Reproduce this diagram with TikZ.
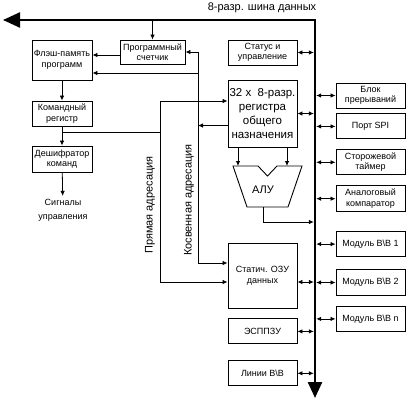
\documentclass[tikz,border=0pt]{standalone}
\usepackage{fontspec}
\setmainfont{Liberation Sans}
\usetikzlibrary{arrows.meta,positioning,calc}

\begin{document}
\begin{tikzpicture}[x=1pt,y=-1pt,
    blk/.style={rectangle,draw,line width=0.9pt,align=center,inner sep=0.5pt,
        minimum width=69pt,minimum height=25pt,font=\fontsize{9}{10.5}\selectfont},
    arr/.style={-{Latex[length=5pt,width=4.5pt]},line width=0.8pt},
    dbl/.style={{Latex[length=5pt,width=4.5pt]}-{Latex[length=5pt,width=4.5pt]},line width=0.8pt},
    bus/.style={{Triangle[length=17pt,width=15pt]}-{Triangle[length=16pt,width=14pt]},line width=2.4pt},
    lbl/.style={font=\fontsize{11}{13}\selectfont}]
    \useasboundingbox (0,0) rectangle (409,407);

    % Data bus
    \coordinate (busl) at (3,20);
    \coordinate (busc) at (315,20);
    \coordinate (busb) at (315,398);
    \coordinate (busw) at (313.8,0);
    \coordinate (buse) at (316.2,0);
    \draw[bus] (busl) -- (busc) -- (busb);
    \node[lbl] (buslabel) at (262,8) {8-разр. шина данных};

    % Program side
    \node[blk,minimum width=60pt,minimum height=40pt] (flash) at (62,60) {Флэш-память\\программ};
    \node[blk,minimum width=65pt,minimum height=24pt] (pc) at (152.5,52) {Программный\\счетчик};
    \node[blk,minimum width=60pt] (cmdreg) at (62,113.5) {Командный\\регистр};
    \node[blk,minimum width=60pt,minimum height=26pt] (decoder) at (62,159) {Дешифратор\\команд};
    \node[align=center,font=\fontsize{9}{14}\selectfont] (signals) at (63,210.5) {Сигналы\\управления};

    % Core
    \node[blk] (status) at (262.5,52.5) {Статус и\\управление};
    \node[blk,minimum height=67pt,font=\fontsize{11.5}{14}\selectfont] (regs) at (262.5,113.5)
        {32 x\ \ 8-разр.\\регистра\\общего\\назначения};

    % ALU
    \coordinate (alutl) at (233,166);
    \coordinate (alutr) at (302,166);
    \coordinate (aluout) at (263,207);
    \draw[line width=0.9pt] (alutl) -- (258,166) -- (267.5,176) -- (277,166) -- (alutr)
        -- (288,207) -- (247,207) -- cycle;
    \node[lbl] (alu) at (263,190) {АЛУ};

    % Memory and I/O
    \node[blk,minimum height=65pt] (ram) at (262.5,275.5) {Статич. ОЗУ\\данных};
    \node[blk,below=10pt of ram] (eeprom) {ЭСППЗУ};
    \node[blk,below=16pt of eeprom] (ioline) {Линии В\textbackslash В};

    % Peripherals
    \node[blk] (irq) at (370.5,95.5) {Блок\\прерываний};
    \node[blk,below=5pt of irq] (spi) {Порт SPI};
    \node[blk,below=10pt of spi] (wdt) {Сторожевой\\таймер};
    \node[blk,below=10pt of wdt,minimum height=26pt] (comp) {Аналоговый\\компаратор};
    \node[blk,below=19pt of comp] (mod1) {Модуль В\textbackslash В 1};
    \node[blk,below=12pt of mod1,minimum height=26pt] (mod2) {Модуль В\textbackslash В 2};
    \node[blk,below=10pt of mod2] (modn) {Модуль В\textbackslash В n};

    % Program flow
    \draw[arr] (pc.north |- busc) -- (pc.north);
    \draw[arr] ([yshift=-3pt]pc.west) -- ([yshift=-3pt]pc.west -| flash.east);
    \draw[arr] (flash) -- (cmdreg);
    \draw[arr] (cmdreg) -- (decoder);
    \draw[arr] (decoder) -- (signals);

    % Direct addressing
    \coordinate (px) at (160,0);
    \coordinate (jn) at ($(cmdreg.south)!0.3!(decoder.north)$);
    \draw[line width=0.8pt] (jn) -- (jn -| px);
    \draw[arr] ([yshift=-6.5pt]ram.west -| px) -- ([yshift=12.5pt]regs.west -| px)
        -- ([yshift=12.5pt]regs.west);
    \draw[arr] ([yshift=-6.5pt]ram.west -| px) -- ([yshift=-6.5pt]ram.west);
    \node[lbl,rotate=90] (direct) at (150,205) {Прямая адресация};

    % Indirect addressing
    \coordinate (kx) at (198,0);
    \draw[arr] ([yshift=-12pt]regs.west) -- ([yshift=-12pt]regs.west -| kx);
    \draw[arr] ([yshift=12.5pt]ram.west -| kx) -- (pc.east -| kx) -- (pc.east);
    \draw[arr] ([yshift=-13pt]flash.east -| kx) -- ([yshift=-13pt]flash.east);
    \draw[arr] ([yshift=12.5pt]ram.west -| kx) -- ([yshift=12.5pt]ram.west);
    \node[lbl,rotate=90] (indirect) at (189,200) {Косвенная адресация};

    % Registers to ALU to bus
    \draw[arr] ([xshift=-24.5pt]regs.south) -- ([xshift=-24.5pt]regs.south |- alutl);
    \draw[arr] ([xshift=24.5pt]regs.south) -- ([xshift=24.5pt]regs.south |- alutr);
    \draw[arr] (aluout) |- (busw |- 0,222);

    % Bus links
    \draw[dbl] (status.east) -- (status.east -| busw);
    \draw[dbl] (regs.east) -- (regs.east -| busw);
    \draw[dbl] ([yshift=-6.5pt]ram.east) -- ([yshift=-6.5pt]ram.east -| busw);
    \draw[dbl] (eeprom.east) -- (eeprom.east -| busw);
    \draw[dbl] (ioline.east) -- (ioline.east -| busw);
    \draw[dbl] (irq.west -| buse) -- (irq.west);
    \draw[dbl] (spi.west -| buse) -- (spi.west);
    \draw[dbl] (wdt.west -| buse) -- (wdt.west);
    \draw[dbl] (comp.west -| buse) -- (comp.west);
    \draw[dbl] (mod1.west -| buse) -- (mod1.west);
    \draw[dbl] (mod2.west -| buse) -- (mod2.west);
    \draw[dbl] (modn.west -| buse) -- (modn.west);
\end{tikzpicture}
\end{document}
